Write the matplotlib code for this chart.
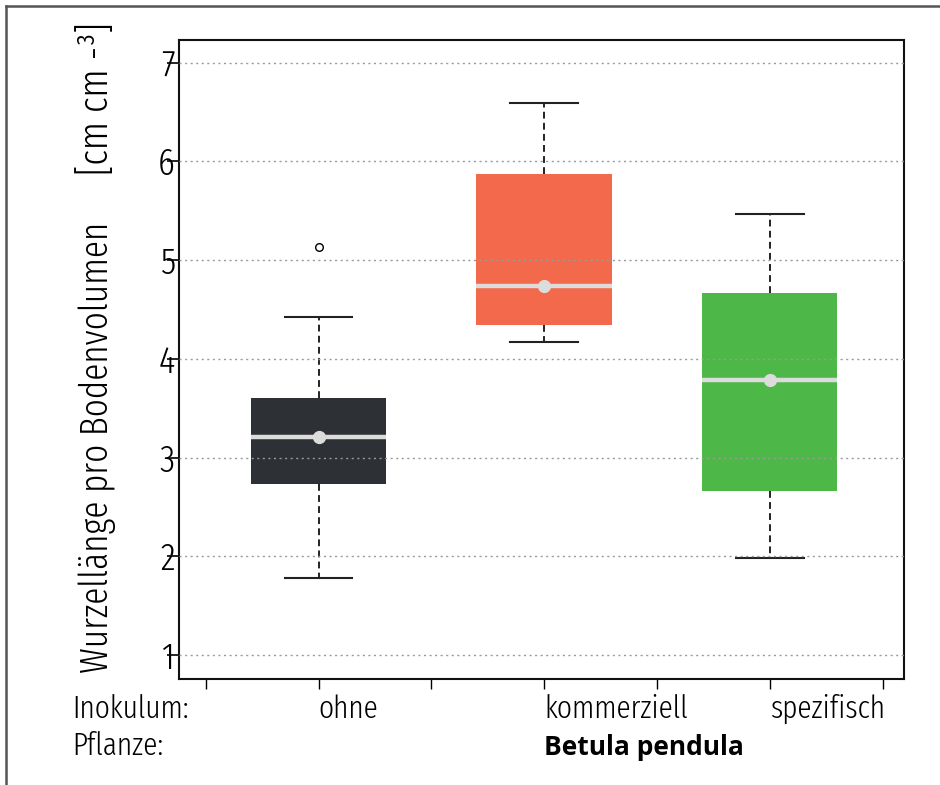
import matplotlib
matplotlib.use("Agg")
import matplotlib.pyplot as plt
import matplotlib.transforms as mtransforms
from matplotlib.lines import Line2D
from matplotlib import font_manager

# ---- data ----
categories = ["ohne", "kommerziell", "spezifisch"]
whisker_low = [1.78, 4.17, 1.98]
q1 = [2.73, 4.34, 2.66]
median = [3.21, 4.74, 3.78]
q3 = [3.60, 5.87, 4.67]
whisker_high = [4.42, 6.59, 5.47]
outliers = [[5.13], [], []]
box_colors = ["#2d3034", "#f2694b", "#4db848"]
yticks = [1, 2, 3, 4, 5, 6, 7]
positions = [1, 3, 5]
xtick_positions = [0, 1, 2, 3, 4, 5, 6]

entries = font_manager.fontManager.ttflist
fam = "DejaVu Sans"
for cand in ["Fira Sans Extra Condensed", "Fira Sans Condensed", "IBM Plex Sans Condensed",
             "Encode Sans Condensed", "Asap Condensed", "Barlow Condensed"]:
    if any(f.name == cand and f.weight == 300 for f in entries):
        fam = cand
        break
names = {f.name for f in entries}
bold_fam = "Open Sans" if "Open Sans" in names else "DejaVu Sans"
plt.rcParams["font.family"] = [fam, "DejaVu Sans"]
plt.rcParams["font.weight"] = 300

fig = plt.figure(figsize=(9.4, 7.85), dpi=100)
W, H = 940, 785
ax = fig.add_axes([179 / W, 1 - 679 / H, (904 - 179) / W, (679 - 39.5) / H])

stats = []
for i in range(len(categories)):
    stats.append(dict(med=median[i], q1=q1[i], q3=q3[i], whislo=whisker_low[i],
                      whishi=whisker_high[i], fliers=outliers[i], label=categories[i]))

bp = ax.bxp(stats, positions=positions, widths=1.2, patch_artist=True,
            showfliers=True, manage_ticks=False,
            boxprops=dict(linewidth=0),
            whiskerprops=dict(color="#222222", linewidth=1.4, linestyle=(0, (3.5, 2.2))),
            capprops=dict(color="#222222", linewidth=1.5),
            capwidths=0.6,
            medianprops=dict(color="#dcdcdc", linewidth=3.2, solid_capstyle="butt"),
            flierprops=dict(marker="o", markersize=5.5, markerfacecolor="white",
                            markeredgecolor="black", markeredgewidth=1.0))
for patch, c in zip(bp["boxes"], box_colors):
    patch.set_facecolor(c)
    patch.set_edgecolor(c)
    patch.set_zorder(2)
for m in bp["medians"]:
    m.set_zorder(4)
ax.plot(positions, median, linestyle="none", marker="o", markersize=8.5,
        color="#dcdcdc", zorder=5)

ax.set_ylim(0.757, 7.233)
ax.set_xlim(-0.237, 6.19)
ax.set_yticks(yticks)
ax.set_yticklabels([str(v) for v in yticks])
ax.set_xticks(xtick_positions)
ax.set_xticklabels([])
for y in yticks:
    ax.axhline(y, color="#9a9a9a", linewidth=1.0, linestyle=(0, (1.5, 2.5)), zorder=3)

ax.tick_params(axis="y", direction="out", length=9, width=1.2, pad=-6, labelsize=27)
ax.tick_params(axis="x", direction="out", length=7, width=1.0)
for s in ax.spines.values():
    s.set_linewidth(1.5)
    s.set_color("#111111")

blend = mtransforms.blended_transform_factory(ax.transData, fig.transFigure)
# x category labels
for p, lab in zip(positions, categories):
    ax.text(p, 1 - 718 / H, lab, transform=blend, ha="left", va="baseline", fontsize=23)

fig.text(72 / W, 1 - 718 / H, "Inokulum:", ha="left", va="baseline", fontsize=23)
fig.text(72 / W, 1 - 755 / H, "Pflanze:", ha="left", va="baseline", fontsize=23)
ax.text(3, 1 - 755 / H, "Betula pendula", transform=blend, ha="left", va="baseline",
        fontsize=19, fontweight="bold", fontstretch="normal", family=[bold_fam, "DejaVu Sans"])

# y label
fig.text(108 / W, 1 - 673 / H, "Wurzellänge pro Bodenvolumen", rotation=90,
         rotation_mode="anchor", ha="left", va="baseline", fontsize=27.5)
fig.text(108 / W, 1 - 175 / H, "[cm cm -³]", rotation=90,
         rotation_mode="anchor", ha="left", va="baseline", fontsize=29)

# outer frame
fig.add_artist(Line2D([6 / W, 1], [1 - 6 / H, 1 - 6 / H], transform=fig.transFigure,
                      color="#555555", linewidth=1.8))
fig.add_artist(Line2D([6 / W, 6 / W], [0, 1 - 6 / H], transform=fig.transFigure,
                      color="#555555", linewidth=1.8))

fig.savefig("out.png", dpi=100)
